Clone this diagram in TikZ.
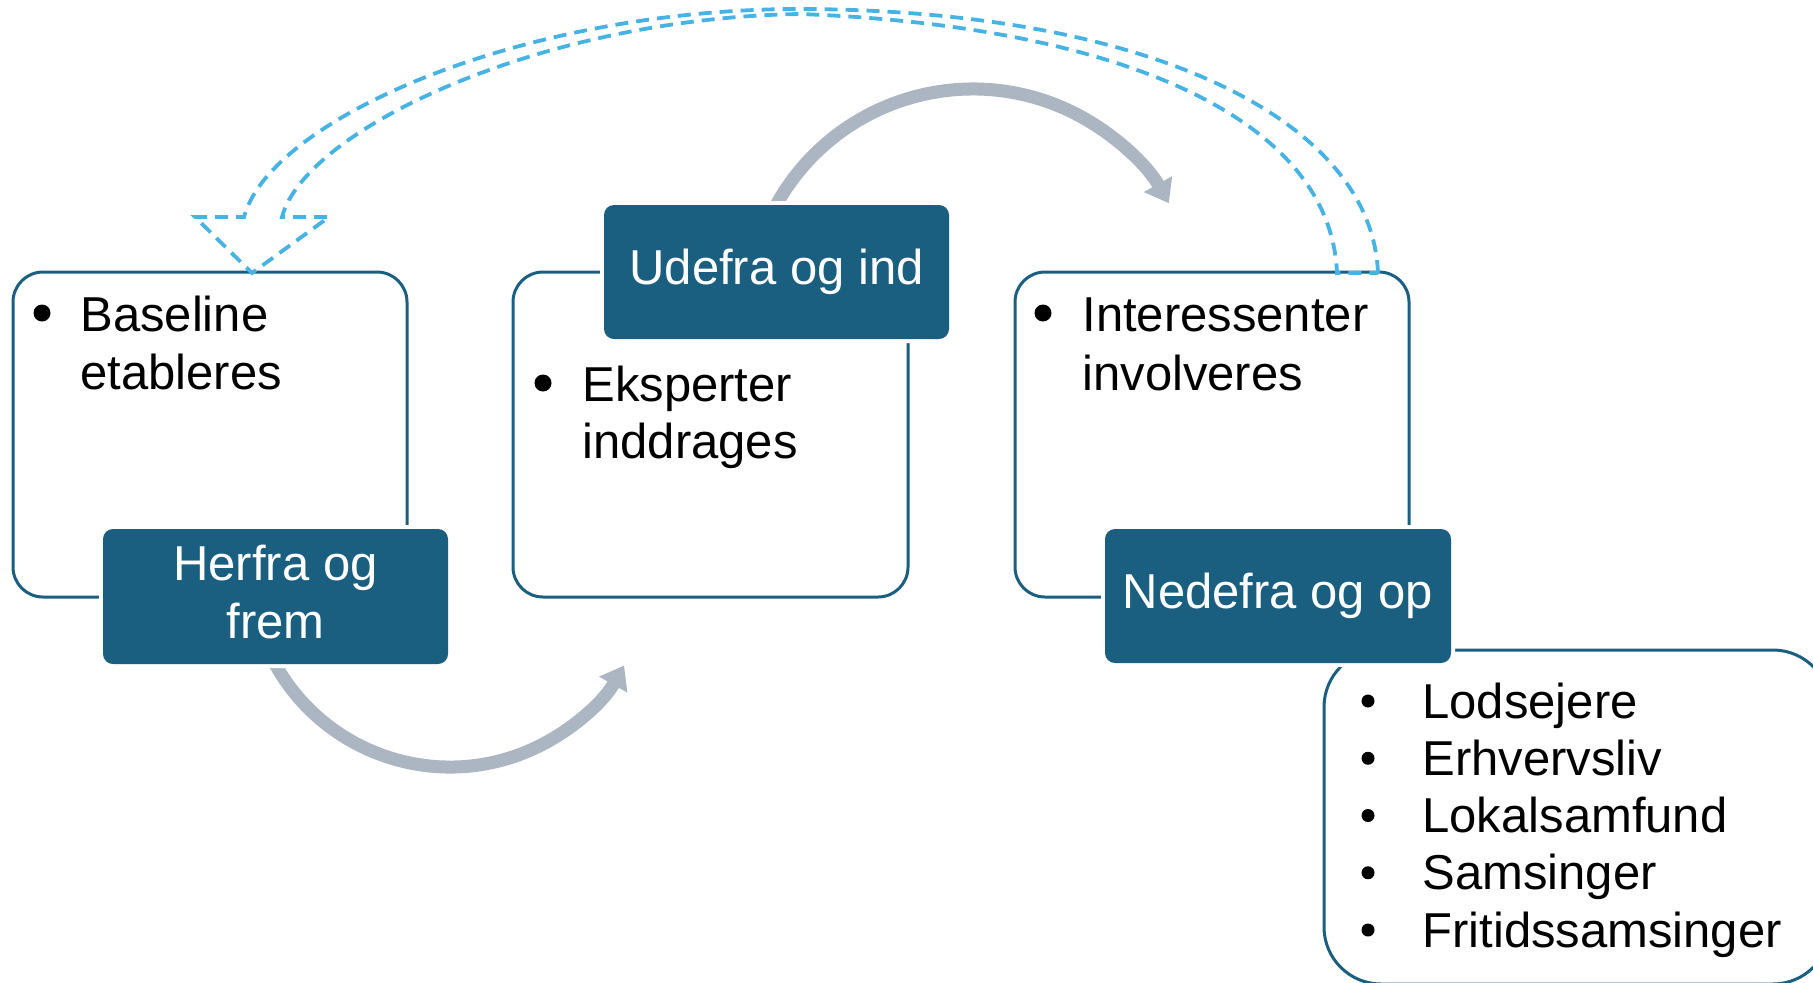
\documentclass[tikz,border=0pt]{standalone}
\usepackage{fontspec}
\setmainfont{Liberation Sans}
\usetikzlibrary{arrows.meta}
\definecolor{navy}{HTML}{1A5F80}
\definecolor{steel}{HTML}{ABB6C2}
\definecolor{sky}{HTML}{47B2E4}
\begin{document}
\begin{tikzpicture}[x=0.5pt,y=-0.5pt,
  every node/.style={font=\fontsize{24.5pt}{29pt}\selectfont},
  card/.style={draw=navy, line width=1.5pt, rounded corners=15pt, rectangle, inner sep=0pt, fill=white},
  tab/.style={fill=navy, rounded corners=5pt, rectangle, text=white, inner sep=0pt, align=center, preaction={draw=white, line width=4pt}},
  item/.style={anchor=base west, inner sep=0pt, text=black},
  dot/.style={circle, fill=black, inner sep=0pt, minimum size=8.5pt},
  flow/.style={draw=steel, line width=6.5pt, -{Triangle[length=11pt,width=15.5pt]}},
  back/.style={draw=sky, line width=1.9pt, dash pattern=on 6.5pt off 4pt, line join=miter}]
\useasboundingbox (0,0) rectangle (1813,982);
\clip (0,0) rectangle (1813,982);
% white cards
\node[card, minimum width=197pt, minimum height=162.5pt] (b1) at (210,434.5) {};
\node[card, minimum width=197.5pt, minimum height=162.5pt] (b2) at (710.5,434.5) {};
\node[card, minimum width=197pt, minimum height=162.5pt] (b3) at (1212,434.5) {};
\node[card, rounded corners=28.5pt, minimum width=253pt, minimum height=167pt] (b4) at (1577,817) {};
% grey flow arrows
\coordinate (c1) at (450,567);
\coordinate (c2) at (973,314);
\draw[flow] (c1) ++(155:200) arc[start angle=155, end angle=29.5, radius=200];
\draw[flow] (c2) ++(-152:225) arc[start angle=-152, end angle=-29.5, radius=225];
% dark tabs
\node[tab, minimum width=172.5pt, minimum height=67.5pt] (h) at (275.5,596.5) {Herfra og\\frem\rule[-5pt]{0pt}{5pt}};
\node[tab, minimum width=172.5pt, minimum height=67pt] (u) at (776.5,272) {Udefra og ind};
\node[tab, minimum width=173pt, minimum height=67pt] (n) at (1278,596) {Nedefra og op};
% texts
\node[dot] (d1) at (42,313) {};
\node[item] (t1a) at (80,331) {Baseline};
\node[item] (t1b) at (80,389) {etableres};
\node[dot] (d2) at (543,383) {};
\node[item] (t2a) at (582,401) {Eksperter};
\node[item] (t2b) at (582,458) {inddrages};
\node[dot] (d3) at (1043,313) {};
\node[item] (t3a) at (1082,331) {Interessenter};
\node[item] (t3b) at (1082,390) {involveres};
\foreach \t [count=\i from 0] in {Lodsejere,Erhvervsliv,Lokalsamfund,Samsinger,Fritidssamsinger} {
  \node[dot, minimum size=6.5pt] (d4\i) at (1368,{701+57.25*\i}) {};
  \node[item] (t4\i) at (1422,{718+57.25*\i}) {\t};
}
% dashed curved arrow back to the start
\coordinate (s1) at (1378,273);
\coordinate (s2) at (1337,273);
\coordinate (tip) at (252,273);
\draw[back] (s1) .. controls (1372,120) and (1150,10) .. (800,9)
  .. controls (520,9) and (270,120) .. (244,217) -- (195,217) -- (tip) -- (329,217) -- (282,217)
  .. controls (305,130) and (540,18) .. (800,14)
  .. controls (1100,25) and (1330,110) .. (s2) -- cycle;
\end{tikzpicture}
\end{document}
